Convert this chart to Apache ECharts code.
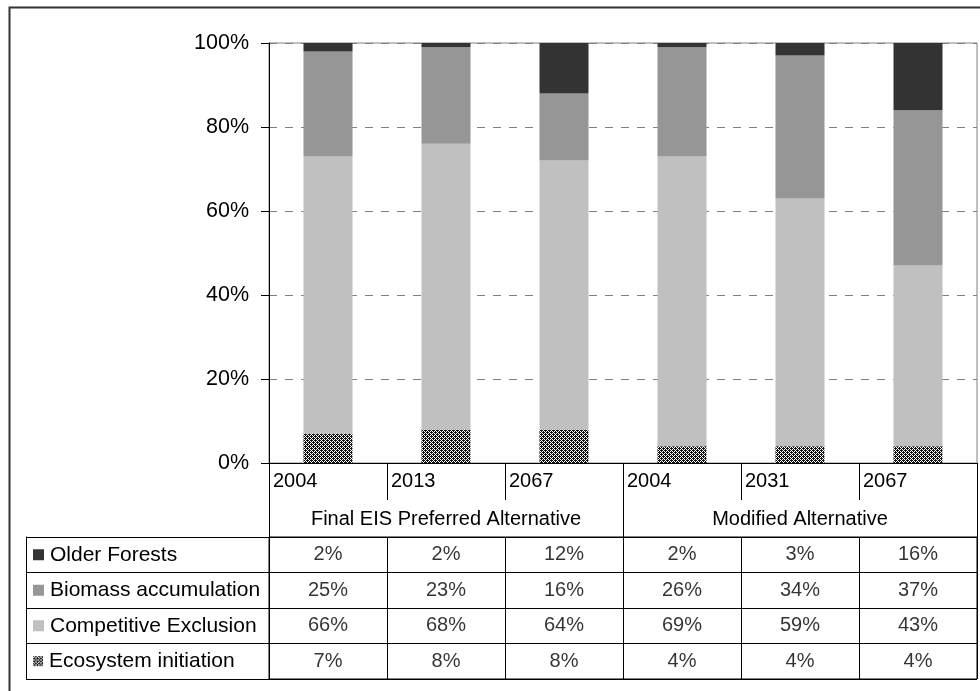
<!DOCTYPE html>
<html>
<head>
<meta charset="utf-8">
<script src="https://cdn.jsdelivr.net/npm/echarts@6/dist/echarts.min.js"></script>
<style>
  html, body { margin: 0; padding: 0; background: #fff; }
  #container { width: 980px; height: 691px; }
</style>
</head>
<body>
<div id="container"></div>
<script>
var years = ['2004', '2013', '2067', '2004', '2031', '2067'];
var columns = ['F2004', 'F2013', 'F2067', 'M2004', 'M2031', 'M2067'];
var groups = ['Final EIS Preferred Alternative', 'Modified Alternative'];
var seriesNames = ['Older Forests', 'Biomass accumulation', 'Competitive Exclusion', 'Ecosystem initiation'];

var olderForests = [2, 2, 12, 2, 3, 16];
var biomass = [25, 23, 16, 26, 34, 37];
var competitive = [66, 68, 64, 69, 59, 43];
var ecosystem = [7, 8, 8, 4, 4, 4];

var colors = ['#333333', '#969696', '#c0c0c0'];
var font = 'Liberation Sans';

// little crosshatch tile for "Ecosystem initiation"
function makeTile(size) {
  var c = document.createElement('canvas');
  c.width = size; c.height = size;
  var ctx = c.getContext('2d');
  ctx.fillStyle = '#111';
  ctx.fillRect(0, 0, size, size);
  ctx.fillStyle = '#fff';
  for (var y = 0; y < size; y++) {
    for (var x = 0; x < size; x++) {
      var a = x % 4, b = y % 4;
      if ((a === 1 && b === 0) || (a === 3 && b === 2) || (a === 0 && b === 1) || (a === 2 && b === 3) || (a === 2 && b === 1) || (a === 0 && b === 3)) {
        ctx.fillRect(x, y, 1, 1);
      }
    }
  }
  return c;
}
var tile = makeTile(4);
var iconTile = makeTile(12);

var tableRows = [olderForests, biomass, competitive, ecosystem];
var tableData = [];
tableRows.forEach(function (row, r) {
  row.forEach(function (v, c) {
    tableData.push([c, r, v]);
  });
});

var chart = echarts.init(document.getElementById('container'));

var option = {
  animation: false,
  textStyle: { fontFamily: font, color: '#000' },
  graphic: [{
    type: 'rect',
    left: 7, top: 5,
    shape: { width: 1000, height: 720 },
    style: { fill: 'none', stroke: '#333', lineWidth: 2 },
    silent: true
  }],
  grid: [
    { left: 269, right: 3, top: 43, bottom: 228, show: true, borderColor: '#808080', borderWidth: 1 },
    { left: 269, right: 3, top: 537, bottom: 12, show: true, borderColor: '#000', borderWidth: 1 }
  ],
  xAxis: [
    {
      gridIndex: 0,
      type: 'category',
      data: columns,
      axisLine: { lineStyle: { color: '#000', width: 1 } },
      axisTick: { show: true, interval: 0, length: 37, lineStyle: { color: '#000' } },
      axisLabel: {
        interval: 0,
        margin: 8,
        formatter: function (v, i) { return '{y|' + years[i] + '}'; },
        rich: { y: { width: 110, align: 'left', fontSize: 20, fontFamily: font, color: '#000' } }
      }
    },
    {
      gridIndex: 0,
      type: 'category',
      position: 'bottom',
      offset: 37,
      data: groups,
      axisLine: { show: false },
      axisTick: { show: true, interval: 0, length: 37, lineStyle: { color: '#000' } },
      axisLabel: { interval: 0, margin: 9, fontSize: 20, fontFamily: font, color: '#000' }
    },
    {
      gridIndex: 1,
      type: 'category',
      data: columns,
      axisLine: { show: false },
      axisTick: { show: false },
      axisLabel: { show: false },
      splitLine: { show: true, interval: 0, lineStyle: { color: '#000', width: 1 } }
    }
  ],
  yAxis: [
    {
      gridIndex: 0,
      type: 'value',
      min: 0, max: 100, interval: 20,
      axisLine: { show: true, lineStyle: { color: '#000', width: 1 } },
      axisTick: { show: true, length: 8, lineStyle: { color: '#000' } },
      axisLabel: { formatter: '{value}%', margin: 20, fontSize: 21.5, fontFamily: font, color: '#000' },
      splitLine: { show: true, lineStyle: { color: '#808080', type: [8, 8], width: 1 } }
    },
    {
      gridIndex: 1,
      type: 'category',
      inverse: true,
      data: seriesNames,
      axisLine: { show: false },
      axisTick: { show: true, interval: 0, length: 243, lineStyle: { color: '#000' } },
      axisLabel: {
        interval: 0,
        align: 'left',
        margin: 236,
        formatter: function (v) {
          return '{i' + seriesNames.indexOf(v) + '|}{t|' + v + '}';
        },
        rich: {
          t: { fontSize: 21, fontFamily: font, color: '#000', padding: [0, 0, 0, 6] },
          i0: { width: 11, height: 11, backgroundColor: colors[0] },
          i1: { width: 11, height: 11, backgroundColor: colors[1] },
          i2: { width: 11, height: 11, backgroundColor: colors[2] },
          i3: { width: 10, height: 10, backgroundColor: { image: iconTile } }
        }
      },
      splitLine: { show: true, interval: 0, lineStyle: { color: '#000', width: 1 } }
    },
    {
      gridIndex: 1,
      type: 'category',
      position: 'left',
      offset: 243,
      data: seriesNames,
      axisLine: { show: true, lineStyle: { color: '#000', width: 1 } },
      axisTick: { show: false },
      axisLabel: { show: false }
    }
  ],
  series: [
    {
      name: 'Ecosystem initiation', type: 'bar', stack: 'all', barWidth: 49, clip: true,
      xAxisIndex: 0, yAxisIndex: 0,
      itemStyle: { color: { image: tile, repeat: 'repeat' } },
      data: ecosystem
    },
    {
      name: 'Competitive Exclusion', type: 'bar', stack: 'all', barWidth: 49, clip: true,
      xAxisIndex: 0, yAxisIndex: 0,
      itemStyle: { color: colors[2] },
      data: competitive
    },
    {
      name: 'Biomass accumulation', type: 'bar', stack: 'all', barWidth: 49, clip: true,
      xAxisIndex: 0, yAxisIndex: 0,
      itemStyle: { color: colors[1] },
      data: biomass
    },
    {
      name: 'Older Forests', type: 'bar', stack: 'all', barWidth: 49, clip: true,
      xAxisIndex: 0, yAxisIndex: 0,
      itemStyle: { color: colors[0] },
      data: olderForests
    },
    {
      name: 'table', type: 'scatter',
      xAxisIndex: 2, yAxisIndex: 1,
      symbolSize: 1,
      itemStyle: { color: 'rgba(0,0,0,0)' },
      label: {
        show: true, position: 'inside',
        formatter: function (p) { return p.value[2] + '%'; },
        fontSize: 20, fontFamily: font, color: '#000'
      },
      data: tableData
    }
  ]
};

chart.setOption(option);
</script>
</body>
</html>
